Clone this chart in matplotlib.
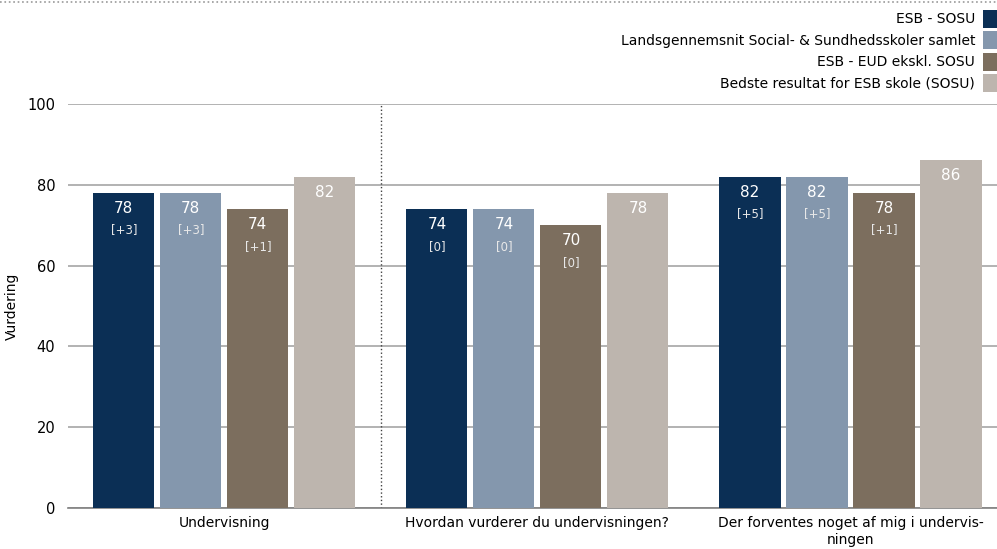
import matplotlib
matplotlib.use("Agg")
import matplotlib.pyplot as plt
from matplotlib.lines import Line2D
import numpy as np

categories = ["Undervisning", "Hvordan vurderer du undervisningen?",
              "Der forventes noget af mig i undervis-\nningen"]
series = ["ESB - SOSU", "Landsgennemsnit Social- & Sundhedsskoler samlet",
          "ESB - EUD ekskl. SOSU", "Bedste resultat for ESB skole (SOSU)"]
values = [
    [78, 74, 82],
    [78, 74, 82],
    [74, 70, 78],
    [82, 78, 86],
]
changes = [
    ["[+3]", "[0]", "[+5]"],
    ["[+3]", "[0]", "[+5]"],
    ["[+1]", "[0]", "[+1]"],
    None,
]
colors = ["#0B2F55", "#8497AD", "#7C6E5E", "#BDB5AE"]

plt.rcParams['font.family'] = ['DejaVu Sans']
fig = plt.figure(figsize=(9.97, 5.49), dpi=100)
ax = fig.add_axes([0.068, 0.0747, 0.932, 0.736])

x = np.arange(len(categories))
step = 0.214
width = 0.195
handles = []
for i, (name, vals) in enumerate(zip(series, values)):
    pos = x + (i - 1.5) * step
    bars = ax.bar(pos, vals, width=width, color=colors[i], zorder=3, label=name)
    handles.append(bars)
    for j, (p, v) in enumerate(zip(pos, vals)):
        ax.text(p, v - 3.8, str(v), ha='center', va='center', color='white',
                fontsize=11, zorder=4)
        if changes[i] is not None:
            ax.text(p, v - 9.2, changes[i][j], ha='center', va='center',
                    color='#E8E8E8', fontsize=8.5, zorder=4)

ax.set_xlim(-0.5, 2.468)
ax.set_ylim(0, 100)
ax.set_yticks([0, 20, 40, 60, 80, 100])
ax.yaxis.grid(True, color='#A6A6A6', linewidth=1.2, zorder=0)
ax.set_axisbelow(True)
for s in ['top', 'right', 'left']:
    ax.spines[s].set_visible(False)
ax.spines['bottom'].set_color('#808080')
ax.spines['bottom'].set_linewidth(1.2)
ax.tick_params(axis='both', length=0, labelsize=10, pad=6)
ax.tick_params(axis='y', pad=9, labelsize=10.5)
ax.set_xticks(x)
ax.set_xticklabels(categories)
ax.set_ylabel("Vurdering", fontsize=10, labelpad=6)

ax.plot([0.5, 0.5], [0, 100], color='#404040', linestyle=':', linewidth=1, zorder=2)

fig.add_artist(Line2D([0, 1], [0.996, 0.996], color='#999999',
                      linestyle=':', linewidth=1.2, transform=fig.transFigure))

fig.legend(handles=handles, labels=series, loc='upper right',
           bbox_to_anchor=(1.008, 0.995), markerfirst=False, frameon=False,
           handlelength=1.1, handleheight=1.6, handletextpad=0.55,
           labelspacing=0.27, fontsize=10, borderpad=0)

fig.savefig("out.png", dpi=100)
